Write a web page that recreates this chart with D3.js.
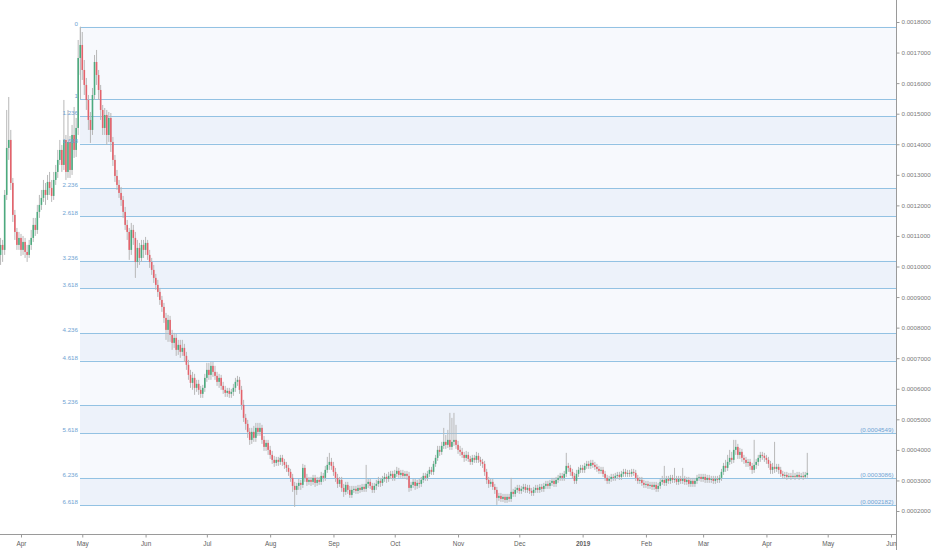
<!DOCTYPE html>
<html>
<head>
<meta charset="utf-8">
<script src="https://cdn.jsdelivr.net/npm/d3@7"></script>
<style>
  html, body { margin: 0; padding: 0; background: #ffffff; }
  svg { display: block; }
  text { font-family: "Liberation Sans", Arial, sans-serif; }
</style>
</head>
<body>
<svg id="chart" width="932" height="550"></svg>
<script>
// ---------------- DATA ----------------
// Daily candles, first candle on 2018-03-22, prices in units of 1e-7 (BTC)
const PRICE_UNIT = 1e-7;
const firstDay = [2018, 2, 22];

const openE7 = [
10379,10706,10543,12342,13879,14141,12734,11688,11131,10706,
10935,10543,10804,10477,10379,10706,10935,11361,11197,11786,
12015,12244,12505,12342,12767,12570,12309,12832,13094,13487,
13814,13323,14141,13094,14075,13159,14304,13814,14533,16823,
17248,16430,15940,15449,14795,14468,15612,16692,16267,15776,
15122,14533,14958,14304,14860,14075,13487,12963,12669,12407,
12178,11786,11361,11131,10543,11197,10935,10150,10608,10281,
10706,10543,10772,10379,10150,9889,9627,9398,9169,8907,
8678,8318,7926,8253,7763,7501,7664,7272,7436,7207,
7337,7076,6782,6454,6192,6356,6029,6160,5964,5833,
6029,6356,6618,6454,6749,6552,6422,6225,6356,6094,
5964,5865,5931,5833,5898,6029,6225,6291,5964,5472,
5047,4851,4589,4327,4589,4393,4720,4589,4720,4327,
4098,4229,4000,3836,3673,3575,3673,3607,3738,3607,
3509,3411,3280,3084,2822,2691,2822,2920,2855,3411,
3084,2953,3018,2953,3084,2920,3018,2953,3149,3084,
3346,3509,3607,3476,3280,3084,2887,3018,2756,2626,
2855,2691,2527,2691,2724,2658,2756,2691,2789,2724,
2887,2953,2822,2691,2822,2887,2986,2920,3051,3116,
3051,3149,3215,3084,3215,3313,3182,3247,3149,3215,
3149,2756,2855,2953,2822,2920,2887,3018,3149,3084,
3215,3346,3280,3542,3738,4000,3935,4131,4262,4164,
4327,4098,4262,4327,4164,4000,3935,3836,3738,3836,
3705,3607,3738,3673,3804,3673,3607,3542,3280,3018,
2887,2953,2789,2691,2429,2495,2396,2462,2364,2462,
2396,2626,2560,2691,2756,2658,2724,2789,2691,2756,
2658,2593,2691,2756,2691,2789,2724,2822,2887,2822,
2920,2986,2887,3018,3084,3149,3084,3215,3476,3411,
3280,3149,2986,3215,3346,3411,3346,3476,3542,3476,
3575,3509,3444,3378,3313,3346,3215,3084,2986,3051,
3116,3084,3149,3182,3116,3215,3280,3215,3247,3215,
3280,3247,3084,2986,3018,2920,2855,2887,2822,2855,
2789,2855,2724,2822,2953,3018,2920,3051,2986,3084,
3018,3051,2953,3051,2986,3051,2953,3018,2887,2986,
2887,2986,3084,3116,3051,3116,3018,3084,3018,3051,
2986,3051,3018,3084,3280,3476,3411,3607,3738,3673,
4000,4098,3836,3935,3738,3673,3575,3607,3476,3346,
3509,3607,3738,3836,3804,3738,3673,3542,3346,3444,
3378,3444,3346,3215,3149,3182,3116,3149,3116,3149,
3116,3182,3116,3149,3116,3182
];

const highE7 = [
10935,10870,12505,15122,15547,14468,12898,11851,11262,11131,
11066,11000,10935,10706,10870,11197,11589,11589,12015,12342,
12505,12832,12734,12996,13094,12832,13094,13323,13814,14141,
13977,15449,14304,15122,14271,14631,15220,14860,17412,17837,
17673,16757,16169,15612,15056,15842,16921,17085,16430,15940,
15285,15187,15122,15056,15023,14239,13650,13159,12832,12603,
12309,11949,11524,11262,11426,11361,11131,10870,10772,10870,
10870,10968,10870,10543,10281,10052,9758,9562,9300,9038,
8809,8482,8417,8384,7926,7828,7795,7599,7599,7599,
7468,7207,6945,6618,6552,6487,6291,6291,6094,6127,
6487,6847,6847,6879,6879,6749,6552,6487,6454,6225,
6094,6029,6029,5996,6160,6356,6422,6389,6094,5636,
5178,4982,4720,4720,4785,4883,4883,4883,4818,4458,
4327,4327,4131,3967,3804,3771,3771,3836,3836,3705,
3607,3509,3378,3215,2953,2920,3051,3018,3542,3509,
3215,3116,3116,3182,3182,3116,3116,3280,3247,3476,
3771,3902,3738,3607,3411,3215,3116,3116,2887,2953,
2953,2822,2822,2822,2822,2855,2855,2887,2887,3509,
3051,3051,2920,2920,3018,3116,3084,3149,3247,3215,
3280,3313,3313,3346,3444,3411,3346,3346,3313,3313,
3280,2953,3051,3051,3018,3051,3116,3247,3247,3313,
3444,3444,3640,3836,4131,4131,4262,4720,4491,4654,
5211,5047,5211,4818,4294,4131,4065,3935,3967,3935,
3804,3836,3836,3935,3902,3771,3705,3640,3378,3116,
3051,3051,2887,2789,2593,2593,2560,2560,2560,2560,
3084,2724,2789,2855,2855,2822,2887,2887,2855,2855,
2756,2789,2855,2855,2887,2887,2920,2986,2986,3018,
3084,3084,3116,3182,3247,3247,3313,3902,3575,3509,
3378,3247,3346,3444,3509,3509,3575,3640,3640,3673,
3673,3607,3542,3476,3444,3444,3313,3182,3149,3215,
3215,3247,3280,3280,3313,3378,3378,3346,3346,3378,
3378,3346,3182,3116,3116,3018,2986,2986,2953,2953,
2953,2953,2920,3051,3149,3476,3149,3149,3182,3182,
3411,3149,3149,3149,3411,3149,3116,3116,3084,3084,
3084,3182,3215,3215,3215,3215,3182,3182,3149,3149,
3149,3149,3182,3378,3575,3673,3836,4000,3935,4327,
4327,4196,4065,4033,3836,3771,3705,3705,3575,4327,
3705,3836,3935,3935,3902,3836,3771,3640,3575,4262,
3542,3542,3444,3313,3280,3280,3247,3247,3346,3247,
3280,3280,3247,3280,3280,3902
];

const lowE7 = [
10052,10150,10379,12178,13487,12505,11458,10870,10543,10543,
10346,10379,10281,10150,10281,10543,10804,11000,11066,11589,
11851,12113,12015,12178,12342,12113,12178,12669,12898,13323,
13094,13159,12832,12898,12898,12996,13552,13585,14304,16267,
16103,15612,15122,14468,14043,14304,15449,15940,15449,14795,
14304,14304,13977,14075,13748,13290,12767,12505,12244,11982,
11589,11197,10870,10216,10379,10706,9627,9954,10052,10150,
10281,10379,10216,9954,9725,9463,9235,9005,8744,8515,
8155,7599,7534,7534,7272,7337,7076,7109,7011,7076,
6879,6618,6291,6029,5964,5800,5898,5800,5702,5702,
5898,6225,6291,6291,6389,6291,6094,6029,5964,5833,
5734,5734,5702,5702,5767,5898,6094,5833,5309,4916,
4654,4393,4164,4196,4262,4262,4458,4458,4196,3967,
3967,3836,3705,3542,3444,3476,3476,3509,3476,3378,
3280,3149,2953,2626,2135,2527,2691,2691,2756,2953,
2822,2855,2822,2855,2789,2822,2855,2855,2953,2986,
3247,3346,3346,3149,2953,2756,2789,2626,2462,2527,
2560,2429,2429,2593,2560,2560,2593,2626,2626,2626,
2756,2724,2593,2593,2691,2789,2789,2822,2953,2920,
2953,3051,2986,2986,3116,3084,3084,3051,3051,3018,
2626,2658,2756,2691,2724,2756,2789,2920,2986,2986,
3116,3182,3182,3444,3640,3804,3836,4033,4033,4065,
4000,4000,4131,4033,3869,3804,3738,3607,3640,3607,
3509,3509,3575,3575,3575,3476,3411,3149,2887,2756,
2789,2691,2560,2200,2331,2298,2298,2266,2266,2298,
2298,2462,2462,2593,2560,2560,2626,2593,2593,2560,
2495,2495,2593,2593,2593,2626,2626,2724,2724,2724,
2822,2789,2789,2920,2986,2986,2986,3116,3280,3149,
3051,2887,2887,3116,3247,3247,3247,3378,3378,3378,
3411,3346,3280,3215,3215,3116,2986,2887,2887,2953,
2986,2986,3051,3018,3018,3116,3116,3116,3116,3116,
3149,2986,2887,2887,2822,2756,2756,2724,2724,2691,
2691,2626,2626,2724,2855,2822,2822,2887,2887,2920,
2920,2855,2855,2887,2887,2855,2855,2789,2789,2789,
2789,2887,2986,2953,2953,2920,2920,2920,2920,2887,
2887,2920,2920,2986,3182,3280,3313,3509,3542,3575,
3836,3705,3705,3607,3542,3444,3444,3346,3215,3247,
3378,3476,3607,3673,3607,3542,3411,3215,3215,3247,
3280,3215,3116,3051,3051,3018,3051,3018,3051,3018,
3051,3018,3051,3018,3051,3084
];

const closeE7 = [
10706,10543,12342,13879,14141,12734,11688,11131,10706,10935,
10543,10804,10477,10379,10706,10935,11361,11197,11786,12015,
12244,12505,12342,12767,12570,12309,12832,13094,13487,13814,
13323,14141,13094,14075,13159,14304,13814,14533,16823,17248,
16430,15940,15449,14795,14468,15612,16692,16267,15776,15122,
14533,14958,14304,14860,14075,13487,12963,12669,12407,12178,
11786,11361,11131,10543,11197,10935,10150,10608,10281,10706,
10543,10772,10379,10150,9889,9627,9398,9169,8907,8678,
8318,7926,8253,7763,7501,7664,7272,7436,7207,7337,
7076,6782,6454,6192,6356,6029,6160,5964,5833,6029,
6356,6618,6454,6749,6552,6422,6225,6356,6094,5964,
5865,5931,5833,5898,6029,6225,6291,5964,5472,5047,
4851,4589,4327,4589,4393,4720,4589,4720,4327,4098,
4229,4000,3836,3673,3575,3673,3607,3738,3607,3509,
3411,3280,3084,2822,2691,2822,2920,2855,3411,3084,
2953,3018,2953,3084,2920,3018,2953,3149,3084,3346,
3509,3607,3476,3280,3084,2887,3018,2756,2626,2855,
2691,2527,2691,2724,2658,2756,2691,2789,2724,2887,
2953,2822,2691,2822,2887,2986,2920,3051,3116,3051,
3149,3215,3084,3215,3313,3182,3247,3149,3215,3149,
2756,2855,2953,2822,2920,2887,3018,3149,3084,3215,
3346,3280,3542,3738,4000,3935,4131,4262,4164,4327,
4098,4262,4327,4164,4000,3935,3836,3738,3836,3705,
3607,3738,3673,3804,3673,3607,3542,3280,3018,2887,
2953,2789,2691,2429,2495,2396,2462,2364,2462,2396,
2626,2560,2691,2756,2658,2724,2789,2691,2756,2658,
2593,2691,2756,2691,2789,2724,2822,2887,2822,2920,
2986,2887,3018,3084,3149,3084,3215,3476,3411,3280,
3149,2986,3215,3346,3411,3346,3476,3542,3476,3575,
3509,3444,3378,3313,3346,3215,3084,2986,3051,3116,
3084,3149,3182,3116,3215,3280,3215,3247,3215,3280,
3247,3084,2986,3018,2920,2855,2887,2822,2855,2789,
2855,2724,2822,2953,3018,2920,3051,2986,3084,3018,
3051,2953,3051,2986,3051,2953,3018,2887,2986,2887,
2986,3084,3116,3051,3116,3018,3084,3018,3051,2986,
3051,3018,3084,3280,3476,3411,3607,3738,3673,4000,
4098,3836,3935,3738,3673,3575,3607,3476,3346,3509,
3607,3738,3836,3804,3738,3673,3542,3346,3444,3378,
3444,3346,3215,3149,3182,3116,3149,3116,3149,3116,
3182,3116,3149,3116,3182,3247
];

// Fibonacci extension levels
const fibLevels = ["0", "1", "1.236", "1.618", "2.236", "2.618", "3.236", "3.618", "4.236", "4.618", "5.236", "5.618", "6.236", "6.618"];
const fibPrices = [0.0017847, 0.0015480, 0.0014921, 0.0014017, 0.0012554, 0.0011650, 0.0010187, 0.0009283, 0.0007820, 0.0006916, 0.0005453, 0.0004549, 0.0003086, 0.0002182];
const fibPriceTags = [null, null, null, null, null, null, null, null, null, null, null, "(0.0004549)", "(0.0003086)", "(0.0002182)"];
const fibStartDate = "2018-05-01";

// Axis ticks
const yTickValues = [0.0002, 0.0003, 0.0004, 0.0005, 0.0006, 0.0007, 0.0008, 0.0009, 0.0010, 0.0011, 0.0012, 0.0013, 0.0014, 0.0015, 0.0016, 0.0017, 0.0018];
const monthTicks = ["2018-04-01", "2018-05-01", "2018-06-01", "2018-07-01", "2018-08-01", "2018-09-01", "2018-10-01", "2018-11-01", "2018-12-01", "2019-01-01", "2019-02-01", "2019-03-01", "2019-04-01", "2019-05-01", "2019-06-01"];
const monthLabels = ["Apr", "May", "Jun", "Jul", "Aug", "Sep", "Oct", "Nov", "Dec", "2019", "Feb", "Mar", "Apr", "May", "Jun"];

// ---------------- CHART ----------------
const W = 932, H = 550;
const plotRight = 896.5, axisY = 534.5;
const svg = d3.select("#chart");

const candles = openE7.map((o, i) => ({
  date: new Date(Date.UTC(firstDay[0], firstDay[1], firstDay[2] + i)),
  open: o * PRICE_UNIT,
  high: highE7[i] * PRICE_UNIT,
  low: lowE7[i] * PRICE_UNIT,
  close: closeE7[i] * PRICE_UNIT
}));

const parse = d3.utcParse("%Y-%m-%d");
const x = d3.scaleUtc()
  .domain([parse("2018-04-01"), parse("2019-06-01")])
  .range([21, 891]);
const y = d3.scaleLinear()
  .domain([0.0002, 0.0018])
  .range([511, 22]);

svg.append("defs").append("clipPath").attr("id", "plotclip")
  .append("rect").attr("x", 0).attr("y", 0).attr("width", plotRight).attr("height", axisY);

const plot = svg.append("g").attr("clip-path", "url(#plotclip)");

// Fib bands
const fx0 = Math.round(x(parse(fibStartDate))) - 2;
const bandG = plot.append("g");
fibPrices.slice(0, -1).forEach((p, i) => {
  const y0 = y(p), y1 = y(fibPrices[i + 1]);
  const dark = (i >= 2 && i % 2 === 0);
  bandG.append("rect")
    .attr("x", fx0).attr("y", y0)
    .attr("width", plotRight - fx0).attr("height", y1 - y0)
    .attr("fill", dark ? "#edf2fa" : "#f7f9fd");
});

// Fib lines
plot.append("g").selectAll("line").data(fibPrices).join("line")
  .attr("x1", fx0).attr("x2", plotRight)
  .attr("y1", d => Math.round(y(d)) + 0.5).attr("y2", d => Math.round(y(d)) + 0.5)
  .attr("stroke", "#93c2e3").attr("stroke-width", 1);

// anchor trend line
plot.append("line")
  .attr("x1", fx0 + 0.5).attr("x2", fx0 + 0.5)
  .attr("y1", y(fibPrices[0])).attr("y2", y(fibPrices[1]))
  .attr("stroke", "#bdbdbd").attr("stroke-width", 1);

// Candles
const cg = plot.append("g");
const bw = 1.6;
cg.selectAll("line.wick").data(candles).join("line")
  .attr("class", "wick")
  .attr("x1", d => x(d.date)).attr("x2", d => x(d.date))
  .attr("y1", d => y(d.high)).attr("y2", d => y(d.low))
  .attr("stroke", "#b8b8b8").attr("stroke-width", 1);
cg.selectAll("rect.body").data(candles).join("rect")
  .attr("class", "body")
  .attr("x", d => x(d.date) - bw / 2)
  .attr("width", bw)
  .attr("y", d => y(Math.max(d.open, d.close)))
  .attr("height", d => Math.max(1, Math.abs(y(d.open) - y(d.close))))
  .attr("fill", d => d.close >= d.open ? "#4caa7e" : "#e4626b");

// Fib level labels (left)
svg.append("g").selectAll("text").data(fibLevels).join("text")
  .attr("x", fx0 - 2)
  .attr("y", (d, i) => Math.round(y(fibPrices[i])) - 1.5)
  .attr("text-anchor", "end")
  .attr("font-size", 6.2)
  .attr("fill", "#6fa3d3")
  .text(d => d);

// Fib price tags (right)
svg.append("g").selectAll("text").data(fibPriceTags.map((t, i) => ({ t, p: fibPrices[i] })).filter(d => d.t)).join("text")
  .attr("x", plotRight - 3)
  .attr("y", d => Math.round(y(d.p)) - 1.5)
  .attr("text-anchor", "end")
  .attr("font-size", 6.2)
  .attr("fill", "#6fa3d3")
  .text(d => d.t);

// Y axis (right)
svg.append("line")
  .attr("x1", plotRight).attr("x2", plotRight).attr("y1", 0).attr("y2", H)
  .attr("stroke", "#9a9a9a").attr("stroke-width", 1);
const yAxis = d3.axisRight(y).tickValues(yTickValues).tickFormat(d3.format(".7f")).tickSize(3).tickPadding(2);
const yAxisG = svg.append("g").attr("transform", `translate(${plotRight},0)`).call(yAxis);
yAxisG.select(".domain").remove();
yAxisG.selectAll(".tick line").attr("stroke", "#9a9a9a");
yAxisG.selectAll(".tick text").attr("font-size", 6.2).attr("fill", "#7a7a7a")
  .attr("font-family", "'Liberation Sans', Arial, sans-serif");

// X axis (bottom)
svg.append("line")
  .attr("x1", 0).attr("x2", plotRight).attr("y1", axisY).attr("y2", axisY)
  .attr("stroke", "#9a9a9a").attr("stroke-width", 1);
const xAxis = d3.axisBottom(x).tickValues(monthTicks.map(parse))
  .tickFormat((d, i) => monthLabels[i]).tickSize(3).tickPadding(4);
const xAxisG = svg.append("g").attr("transform", `translate(0,${axisY})`).call(xAxis);
xAxisG.select(".domain").remove();
xAxisG.selectAll(".tick line").attr("stroke", "#9a9a9a");
xAxisG.selectAll(".tick text").attr("font-size", 6.4).attr("fill", "#606060")
  .attr("font-family", "'Liberation Sans', Arial, sans-serif")
  .attr("font-weight", (d, i) => monthLabels[i] === "2019" ? "bold" : "normal");
</script>
</body>
</html>
